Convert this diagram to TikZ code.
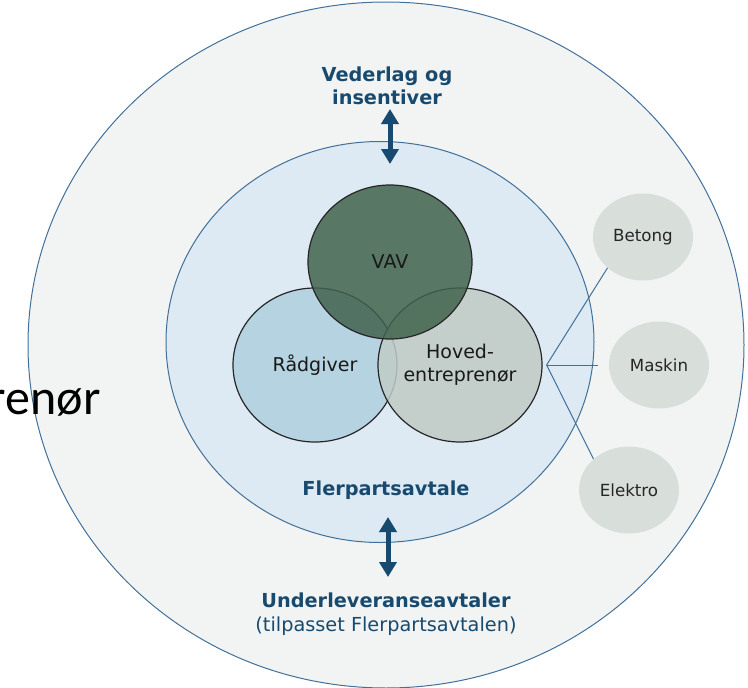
\documentclass[tikz,border=0pt]{standalone}
\usepackage{fontspec}
\setmainfont{DejaVu Sans}
\newfontfamily\slidefont{Carlito}
\usepackage{xcolor}
\usetikzlibrary{shapes.geometric, positioning, arrows.meta}

\definecolor{outerbg}{HTML}{F2F4F4}
\definecolor{innerbg}{HTML}{DDEAF3}
\definecolor{ringline}{HTML}{41709A}
\definecolor{navy}{HTML}{174A6E}
\definecolor{vavgreen}{HTML}{41634D}
\definecolor{raadblue}{HTML}{AFCFDF}
\definecolor{hovgrey}{HTML}{C0CBC6}
\definecolor{subgrey}{HTML}{D8DFDB}

\tikzset{
  ring/.style={ellipse, draw=ringline, line width=1pt, inner sep=0pt},
  venn/.style={ellipse, draw=black!85, line width=1.2pt, fill opacity=0.85,
    text opacity=1, text=black!90, minimum width=164pt, minimum height=154pt,
    inner sep=0pt, align=center, font=\fontsize{19}{23}\selectfont},
  sub/.style={ellipse, fill=subgrey, minimum width=100pt, minimum height=87pt,
    inner sep=0pt, text=black!85, font=\fontsize{16.7}{20}\selectfont},
  heading/.style={text=navy, align=center, font=\bfseries\fontsize{19.3}{23}\selectfont},
  twoway/.style={{Triangle[width=17pt,length=15pt]}-{Triangle[width=17pt,length=15pt]},
    line width=5pt, draw=navy},
}

\begin{document}
\begin{tikzpicture}[x=1pt, y=-1pt, on grid]
    \useasboundingbox (0,0) rectangle (748,688);

    % contract rings
    \node[ring, fill=outerbg, minimum width=716pt, minimum height=686pt] (outer) at (386,345) {};
    \node[ring, fill=innerbg, minimum width=428pt, minimum height=401pt] (inner) at (380,342) {};

    % the three parties
    \node[venn, fill=raadblue] (raad) at (315,365) {Rådgiver};
    \node[venn, fill=hovgrey, right=145pt of raad] (hoved) {Hoved-\\entreprenør};
    \node[venn, fill=vavgreen, above right=103pt and 75pt of raad] (vav) {VAV};

    % subcontractors
    \node[sub] (maskin) at (659,365) {Maskin};
    \node[sub, above left=128pt and 16pt of maskin] (betong) {Betong};
    \node[sub, below left=125pt and 30pt of maskin] (elektro) {Elektro};

    \coordinate (hub) at ([xshift=4pt]hoved.east);
    \draw[ringline, line width=1pt] (betong.south west) -- (hub) -- (elektro.north west);
    \draw[ringline, line width=1pt] (hub) -- ([xshift=-11pt]maskin.west);

    % headings
    \node[heading] (vederlag) at (387,86) {Vederlag og\\insentiver};
    \node[heading] (flerpart) at (386,490) {Flerpartsavtale};
    \node[heading] (underlev) at (386,614) {Underleveranseavtaler\\[1pt]{\mdseries(tilpasset Flerpartsavtalen)}};

    \coordinate (payup) at (390,109);
    \coordinate (paydown) at (390,164);
    \draw[twoway] (payup) -- (paydown);
    \coordinate (subup) at (388,517);
    \coordinate (subdown) at (388,577);
    \draw[twoway] (subup) -- (subdown);

    \node[anchor=base east, font=\slidefont\fontsize{50}{60}\selectfont] (stray) at (104,414) {renør};
\end{tikzpicture}
\end{document}
